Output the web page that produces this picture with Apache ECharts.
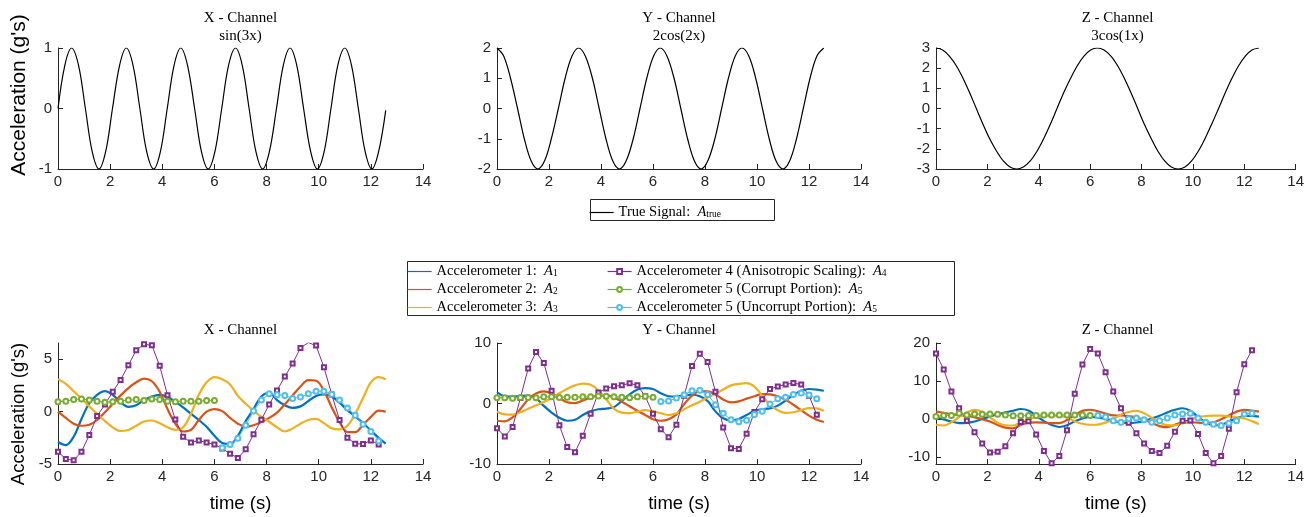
<!DOCTYPE html>
<html>
<head>
<meta charset="utf-8">
<script src="https://cdn.jsdelivr.net/npm/echarts@6/dist/echarts.min.js"></script>
<style>
  html, body { margin: 0; padding: 0; background: #fff; }
  #chart { width: 1307px; height: 517px; }
</style>
</head>
<body>
<div id="chart"></div>
<script>
// ---- values ----
// top row: true signal, sampled every ~0.26 s
const tTop = [0, 0.26, 0.52, 0.79, 1.05, 1.31, 1.57, 1.83, 2.09, 2.36, 2.62, 2.88, 3.14, 3.40, 3.67, 3.93,
  4.19, 4.45, 4.71, 4.97, 5.24, 5.50, 5.76, 6.02, 6.28, 6.54, 6.81, 7.07, 7.33, 7.59, 7.85, 8.11,
  8.38, 8.64, 8.90, 9.16, 9.42, 9.69, 9.95, 10.21, 10.47, 10.73, 11.00, 11.26, 11.52, 11.78, 12.04, 12.30, 12.57];
const trueX = [0, 0.71, 1, 0.71, 0, -0.71, -1, -0.71, 0, 0.71, 1, 0.71, 0, -0.71, -1, -0.71,
  0, 0.71, 1, 0.71, 0, -0.71, -1, -0.71, 0, 0.71, 1, 0.71, 0, -0.71, -1, -0.71,
  0, 0.71, 1, 0.71, 0, -0.71, -1, -0.71, 0, 0.71, 1, 0.71, 0, -0.71, -1, -0.71, -0.03];
const trueY = [2, 1.73, 1, 0, -1, -1.73, -2, -1.73, -1, 0, 1, 1.73, 2, 1.73, 1, 0,
  -1, -1.73, -2, -1.73, -1, 0, 1, 1.73, 2, 1.73, 1, 0, -1, -1.73, -2, -1.73,
  -1, 0, 1, 1.73, 2, 1.73, 1, 0, -1, -1.73, -2, -1.73, -1, 0, 1, 1.73, 2];
const trueZ = [3, 2.9, 2.6, 2.12, 1.5, 0.78, 0, -0.78, -1.5, -2.12, -2.6, -2.9, -3, -2.9, -2.6, -2.12,
  -1.5, -0.78, 0, 0.78, 1.5, 2.12, 2.6, 2.9, 3, 2.9, 2.6, 2.12, 1.5, 0.78, 0, -0.78,
  -1.5, -2.12, -2.6, -2.9, -3, -2.9, -2.6, -2.12, -1.5, -0.78, 0, 0.78, 1.5, 2.12, 2.6, 2.9, 3];

// bottom row: accelerometers, sampled every 0.3 s (last point 12.57 for the plain lines)
const tBot = [0, 0.3, 0.6, 0.9, 1.2, 1.5, 1.8, 2.1, 2.4, 2.7, 3.0, 3.3, 3.6, 3.9, 4.2, 4.5, 4.8, 5.1, 5.4, 5.7, 6.0,
  6.3, 6.6, 6.9, 7.2, 7.5, 7.8, 8.1, 8.4, 8.7, 9.0, 9.3, 9.6, 9.9, 10.2, 10.5, 10.8, 11.1, 11.4, 11.7, 12.0, 12.3, 12.57];

const acc1X = [-2.9, -3.2, -2.4, -0.7, 0.8, 1.6, 1.95, 1.6, 0.9, 0.45, 0.6, 1.1, 1.45, 1.6, 1.4, 0.95, 0.4, -0.2, -0.8, -1.45, -2.3,
  -3.0, -3.1, -2.3, -0.9, 0.25, 1.45, 1.8, 1.1, 0.6, 0.35, 0.5, 1.0, 1.5, 1.65, 1.45, 0.85, 0.15, -0.45, -1.1, -1.8, -2.5, -3.05];
const acc2X = [0, -0.6, -1.15, -1.35, -1.25, -0.8, -0.05, 0.75, 1.55, 2.25, 2.8, 3.15, 2.9, 1.9, 0.25, -1.15, -1.9, -1.75, -0.8, 0.0, 0.24,
  0.05, -0.6, -1.15, -1.44, -1.3, -1.0, -0.6, -0.1, 0.7, 1.55, 2.4, 3.0, 2.95, 2.0, 0.4, -1.0, -1.95, -1.95, -1.25, -0.5, 0.1, 0.0];
const acc3X = [3.1, 2.65, 1.95, 1.25, 0.5, -0.2, -0.9, -1.5, -1.85, -1.75, -1.35, -0.95, -0.85, -1.1, -1.5, -1.75, -1.5, -0.2, 1.6, 2.8, 3.3,
  3.1, 2.6, 1.5, 0.75, 0.1, -0.5, -0.97, -1.5, -1.9, -1.6, -1.15, -0.8, -0.7, -1.1, -1.6, -1.7, -1.35, -0.2, 1.3, 2.8, 3.3, 3.1];
const acc4X = [-3.83, -4.52, -4.65, -3.83, -2.24, -0.43, 0.68, 1.89, 3.03, 4.43, 5.86, 6.43, 6.33, 4.37, 1.57, -0.75, -2.4, -2.95, -2.76, -2.95, -3.14,
  -3.51, -4.02, -4.43, -3.6, -2.17, -0.78, 0.68, 2.02, 3.35, 4.59, 6.08, 6.59, 6.3, 4.24, 1.64, -0.81, -2.49, -3.06, -3.1, -2.75, -3.13];
const acc5cX = [0.95, 1.0, 1.15, 1.2, 1.1, 1.0, 0.9, 0.95, 1.0, 1.1, 1.15, 1.05, 1.2, 1.15, 1.0, 0.95, 1.0, 1.0, 1.0, 1.05, 1.05];
const acc5uX = [-3.45, -3.15, -2.55, -1.3, 0.05, 1.1, 1.7, 1.6, 1.55, 1.25, 1.4, 1.7, 1.95, 1.95, 1.65, 1.1, 0.35, -0.35, -1.2, -1.9, -2.8];

const acc1Y = [1.9, 1.2, 1.15, 1.25, 1.3, 0.9, -0.4, -1.5, -2.35, -2.85, -2.7, -1.9, -1.3, -0.95, -0.85, -0.6, 0.4, 1.5, 2.3, 2.55, 2.4,
  1.7, 1.2, 1.15, 1.35, 1.45, 1.2, 0.4, -1.3, -2.45, -2.8, -2.55, -1.9, -1.2, -0.95, -0.8, -0.35, 0.5, 1.45, 2.1, 2.4, 2.3, 2.1];
const acc2Y = [-2.85, -2.95, -2.3, -0.9, 0.7, 1.65, 2.0, 1.65, 0.9, 0.2, 0.06, 0.5, 1.0, 1.3, 1.4, 1.0, 0.3, -0.45, -1.2, -1.9, -2.6,
  -2.85, -2.6, -1.8, -0.1, 1.3, 2.0, 2.0, 1.5, 0.65, 0.2, 0.35, 0.8, 1.2, 1.55, 1.5, 1.2, 0.6, -0.2, -1.1, -2.0, -2.7, -3.05];
const acc3Y = [-1.35, -1.8, -1.85, -1.45, -0.85, -0.3, 0.25, 0.9, 1.7, 2.45, 3.0, 3.3, 3.1, 2.2, 0.7, -0.9, -1.5, -1.6, -1.35, -1.1, -1.3,
  -1.6, -1.9, -1.6, -0.95, -0.3, 0.3, 1.0, 1.6, 2.3, 3.0, 3.25, 3.37, 2.8, 1.3, -0.2, -1.1, -1.55, -1.45, -1.1, -0.75, -0.8, -1.25];
const acc4Y = [-4.1, -5.45, -3.9, 0.9, 5.8, 8.5, 6.7, 2.1, -3.6, -7.2, -8.05, -5.35, -1.7, 1.8, 2.5, 2.85, 3.0, 3.35, 3.0, 1.2, -1.7,
  -4.25, -5.57, -3.5, 1.3, 6.2, 8.24, 6.85, 1.95, -3.95, -7.4, -7.5, -5.0, -1.4, 0.7, 2.4, 2.8, 3.15, 3.37, 3.15, 1.3, -1.87];
const acc5cY = [0.95, 0.95, 0.85, 1.0, 1.0, 0.95, 1.1, 1.1, 1.0, 1.05, 1.05, 1.1, 1.1, 1.25, 1.2, 1.1, 1.05, 0.95, 1.1, 1.2, 1.05];
const acc5uY = [0.35, 0.4, 0.9, 1.45, 2.1, 2.2, 1.5, -0.2, -1.6, -2.7, -3.0, -2.75, -1.8, -1.3, -0.1, 0.8, 1.05, 1.5, 1.75, 1.4, 0.8];

const acc1Z = [0.35, -0.15, -0.7, -1.1, -1.05, -0.7, 0.0, 0.6, 1.2, 1.7, 2.15, 2.6, 2.2, 0.8, -0.6, -1.6, -2.15, -1.7, -0.65, 0.1, 0.5,
  0.4, -0.1, -0.6, -0.95, -1.1, -0.95, -0.55, 0.1, 0.8, 1.7, 2.4, 2.8, 2.15, 0.5, -0.9, -1.7, -1.6, -0.7, 0.15, 0.75, 0.8, 0.6];
const acc2Z = [1.95, 1.6, 1.25, 1.0, 0.85, 0.4, -0.1, -0.7, -1.6, -2.3, -2.5, -1.6, -1.0, -0.95, -1.0, -1.1, -1.1, -0.3, 1.0, 2.1, 2.4,
  2.0, 1.4, 0.9, 0.88, 0.7, 0.3, -0.25, -1.1, -1.9, -2.2, -1.55, -0.95, -0.9, -1.0, -1.1, -0.9, -0.1, 0.9, 1.9, 2.35, 2.2, 1.9];
const acc3Z = [-1.55, -1.75, -0.9, 0.5, 1.7, 2.35, 1.9, 0.4, -1.0, -1.7, -1.75, -0.95, -0.1, 0.45, 0.65, 0.8, 0.75, 0.35, -0.6, -1.3, -1.55,
  -1.5, -1.0, -0.1, 1.1, 1.8, 2.1, 1.5, 0.3, -0.9, -1.65, -1.7, -1.2, -0.2, 0.4, 0.75, 0.85, 0.85, 0.65, 0.4, 0.1, -0.6, -1.4];
const acc4Z = [17.2, 13.0, 7.2, 2.8, -0.5, -3.5, -6.5, -8.9, -8.7, -7.2, -3.8, -0.8, -0.6, -4.1, -8.5, -11.7, -9.8, -3.0, 6.6, 14.3, 18.4,
  17.2, 12.3, 7.2, 2.8, -1.0, -3.8, -6.5, -8.5, -9.0, -7.1, -3.4, -0.5, -0.4, -4.0, -9.0, -11.7, -9.8, -2.6, 7.0, 14.4, 18.1];
const acc5cZ = [0.6, 0.9, 0.9, 1.5, 1.05, 1.3, 1.2, 1.3, 1.2, 1.05, 0.8, 0.8, 0.9, 0.9, 1.05, 1.05, 1.05, 1.05, 1.05, 1.05, 0.9];
const acc5uZ = [0.9, 0.5, -0.5, -0.9, 0.0, 0.2, -0.25, -0.9, -0.5, 0.2, 1.05, 1.25, 1.5, 0.2, -0.9, -1.4, -1.75, -1.15, -0.5, 1.25, 1.5];

const xTicks = [0, 2, 4, 6, 8, 10, 12, 14];
const yTicksTop = [[-1, 0, 1], [-2, -1, 0, 1, 2], [-3, -2, -1, 0, 1, 2, 3]];
const yTicksBot = [[-5, 0, 5], [-10, 0, 10], [-10, 0, 10, 20]];
const yRangeTop = [[-1, 1], [-2, 2], [-3, 3]];
const yRangeBot = [[-5, 6.55], [-10, 10], [-11.9, 20]];
const channelTitles = ['X - Channel', 'Y - Channel', 'Z - Channel'];
const trueTitles = ['sin(3x)', '2cos(2x)', '3cos(1x)'];
const accNames = ['Accelerometer 1', 'Accelerometer 2', 'Accelerometer 3',
  'Accelerometer 4 (Anisotropic Scaling)', 'Accelerometer 5 (Corrupt Portion)', 'Accelerometer 5 (Uncorrupt Portion)'];
const accSubs = ['1', '2', '3', '4', '5', '5'];

// ---- drawing ----
const colors = ['#0072BD', '#D95319', '#EDB120', '#7E2F8E', '#77AC30', '#4DBEEE'];
const axisColor = '#262626';
const sans = 'Liberation Sans';
const serif = 'Liberation Serif';
const gridLeft = [58, 497, 936];
const gridWidth = [365, 364, 363];

const trueData = [trueX, trueY, trueZ];
const accData = [
  [acc1X, acc2X, acc3X, acc4X, acc5cX, acc5uX],
  [acc1Y, acc2Y, acc3Y, acc4Y, acc5cY, acc5uY],
  [acc1Z, acc2Z, acc3Z, acc4Z, acc5cZ, acc5uZ]
];

function pairs(ts, vs, off) {
  return vs.map((v, i) => [ts[i + off], v]);
}

let chart = echarts.init(document.getElementById('chart'));

let grid = [], xAxis = [], yAxis = [], series = [], title = [];

function makeX(gi, named) {
  return {
    type: 'value', gridIndex: gi, min: 0, max: 14, interval: 2,
    axisLine: { show: true, onZero: false, lineStyle: { color: axisColor, width: 1 } },
    axisTick: { show: true, inside: true, length: 5, lineStyle: { color: axisColor } },
    axisLabel: { color: axisColor, fontFamily: sans, fontSize: 15, margin: 5 },
    splitLine: { show: false },
    name: named ? 'time (s)' : '',
    nameLocation: 'middle', nameGap: 30,
    nameTextStyle: { fontFamily: sans, fontSize: 18.5, color: '#000' }
  };
}

function makeY(gi, range, ticks) {
  return {
    type: 'value', gridIndex: gi, min: range[0], max: range[1],
    axisLine: { show: true, onZero: false, lineStyle: { color: axisColor, width: 1 } },
    axisTick: { show: true, inside: true, length: 5, customValues: ticks, lineStyle: { color: axisColor } },
    axisLabel: { color: axisColor, fontFamily: sans, fontSize: 15, margin: 6, customValues: ticks },
    splitLine: { show: false }
  };
}

for (let c = 0; c < 3; c++) {
  // top row
  grid.push({ left: gridLeft[c], width: gridWidth[c], top: 48, height: 121 });
  xAxis.push(makeX(c, false));
  yAxis.push(makeY(c, yRangeTop[c], yTicksTop[c]));
  title.push({
    text: channelTitles[c] + '\n' + trueTitles[c],
    left: gridLeft[c] + gridWidth[c] / 2, top: 9, padding: 0, textAlign: 'center',
    textStyle: { fontFamily: serif, fontSize: 15, fontWeight: 'normal', lineHeight: 18, color: '#000' }
  });
  series.push({
    name: 'True Signal', type: 'line', xAxisIndex: c, yAxisIndex: c,
    data: pairs(tTop, trueData[c], 0), symbol: 'none', smooth: 0.35,
    lineStyle: { color: '#000', width: 1.2 }, itemStyle: { color: '#000' }
  });
}

for (let c = 0; c < 3; c++) {
  let gi = c + 3;
  grid.push({ left: gridLeft[c], width: gridWidth[c], top: 343, height: 121 });
  xAxis.push(makeX(gi, true));
  yAxis.push(makeY(gi, yRangeBot[c], yTicksBot[c]));
  title.push({
    text: channelTitles[c],
    left: gridLeft[c] + gridWidth[c] / 2, top: 321, padding: 0, textAlign: 'center',
    textStyle: { fontFamily: serif, fontSize: 15, fontWeight: 'normal', lineHeight: 18, color: '#000' }
  });
  let d = accData[c];
  for (let k = 0; k < 3; k++) {
    series.push({
      name: accNames[k], type: 'line', xAxisIndex: gi, yAxisIndex: gi,
      data: pairs(tBot, d[k], 0), symbol: 'none', smooth: 0.35,
      lineStyle: { color: colors[k], width: 2.2 }, itemStyle: { color: colors[k] }
    });
  }
  series.push({
    name: accNames[3], type: 'line', xAxisIndex: gi, yAxisIndex: gi,
    data: pairs(tBot, d[3], 0), symbol: 'emptyRect', symbolSize: 4,
    lineStyle: { color: colors[3], width: 1 }, itemStyle: { color: colors[3], borderWidth: 1 }
  });
  series.push({
    name: accNames[4], type: 'line', xAxisIndex: gi, yAxisIndex: gi,
    data: pairs(tBot, d[4], 0), symbol: 'emptyCircle', symbolSize: 5,
    lineStyle: { color: colors[4], width: 1 }, itemStyle: { color: colors[4], borderWidth: 1 }
  });
  series.push({
    name: accNames[5], type: 'line', xAxisIndex: gi, yAxisIndex: gi,
    data: pairs(tBot, d[5], 21), symbol: 'emptyCircle', symbolSize: 5,
    lineStyle: { color: colors[5], width: 1 }, itemStyle: { color: colors[5], borderWidth: 1 }
  });
}

const legendRich = {
  i: { fontFamily: serif, fontSize: 14.5, fontStyle: 'italic', color: '#000' },
  s: { fontFamily: serif, fontSize: 9.5, color: '#000', verticalAlign: 'bottom', padding: [7, 0, 0, 0] }
};
function legendText(name) {
  let k = accNames.indexOf(name);
  return name + ':  {i|A}{s|' + accSubs[k] + '}';
}
// plain lines: hide the dot the line legend icon draws
function legendItem(name) {
  let k = accNames.indexOf(name);
  return k >= 0 && k < 3 ? { name: name, itemStyle: { opacity: 0 } } : { name: name };
}
const legendBase = {
  orient: 'vertical', itemWidth: 24, itemHeight: 6, itemGap: 3, padding: 0,
  selectedMode: false, lineStyle: { width: 1.2 },
  textStyle: { fontFamily: serif, fontSize: 14.5, lineHeight: 14, color: '#000', rich: legendRich }
};

let option = {
  animation: false,
  backgroundColor: '#fff',
  title: title,
  grid: grid,
  xAxis: xAxis,
  yAxis: yAxis,
  legend: [
    Object.assign({}, legendBase, {
      left: 589, top: 205, data: [{ name: 'True Signal', itemStyle: { opacity: 0 } }],
      formatter: 'True Signal:  {i|A}{s|true}'
    }),
    Object.assign({}, legendBase, {
      left: 407, top: 264, data: accNames.slice(0, 3).map(legendItem), formatter: legendText
    }),
    Object.assign({}, legendBase, {
      left: 607, top: 264, data: accNames.slice(3).map(legendItem), formatter: legendText
    })
  ],
  graphic: [
    { type: 'rect', left: 588, top: 197, shape: { width: 184, height: 21 },
      style: { fill: null, stroke: axisColor, lineWidth: 1 } },
    { type: 'rect', left: 405, top: 259, shape: { width: 547, height: 54 },
      style: { fill: null, stroke: axisColor, lineWidth: 1 } },
    { type: 'text', x: 19, y: 95, rotation: Math.PI / 2,
      style: { text: "Acceleration (g's)", fontFamily: sans, fontSize: 21, fill: '#000', align: 'center', verticalAlign: 'middle' } },
    { type: 'text', x: 19, y: 414, rotation: Math.PI / 2,
      style: { text: "Acceleration (g's)", fontFamily: sans, fontSize: 18.5, fill: '#000', align: 'center', verticalAlign: 'middle' } }
  ],
  series: series
};
chart.setOption(option);
</script>
</body>
</html>
